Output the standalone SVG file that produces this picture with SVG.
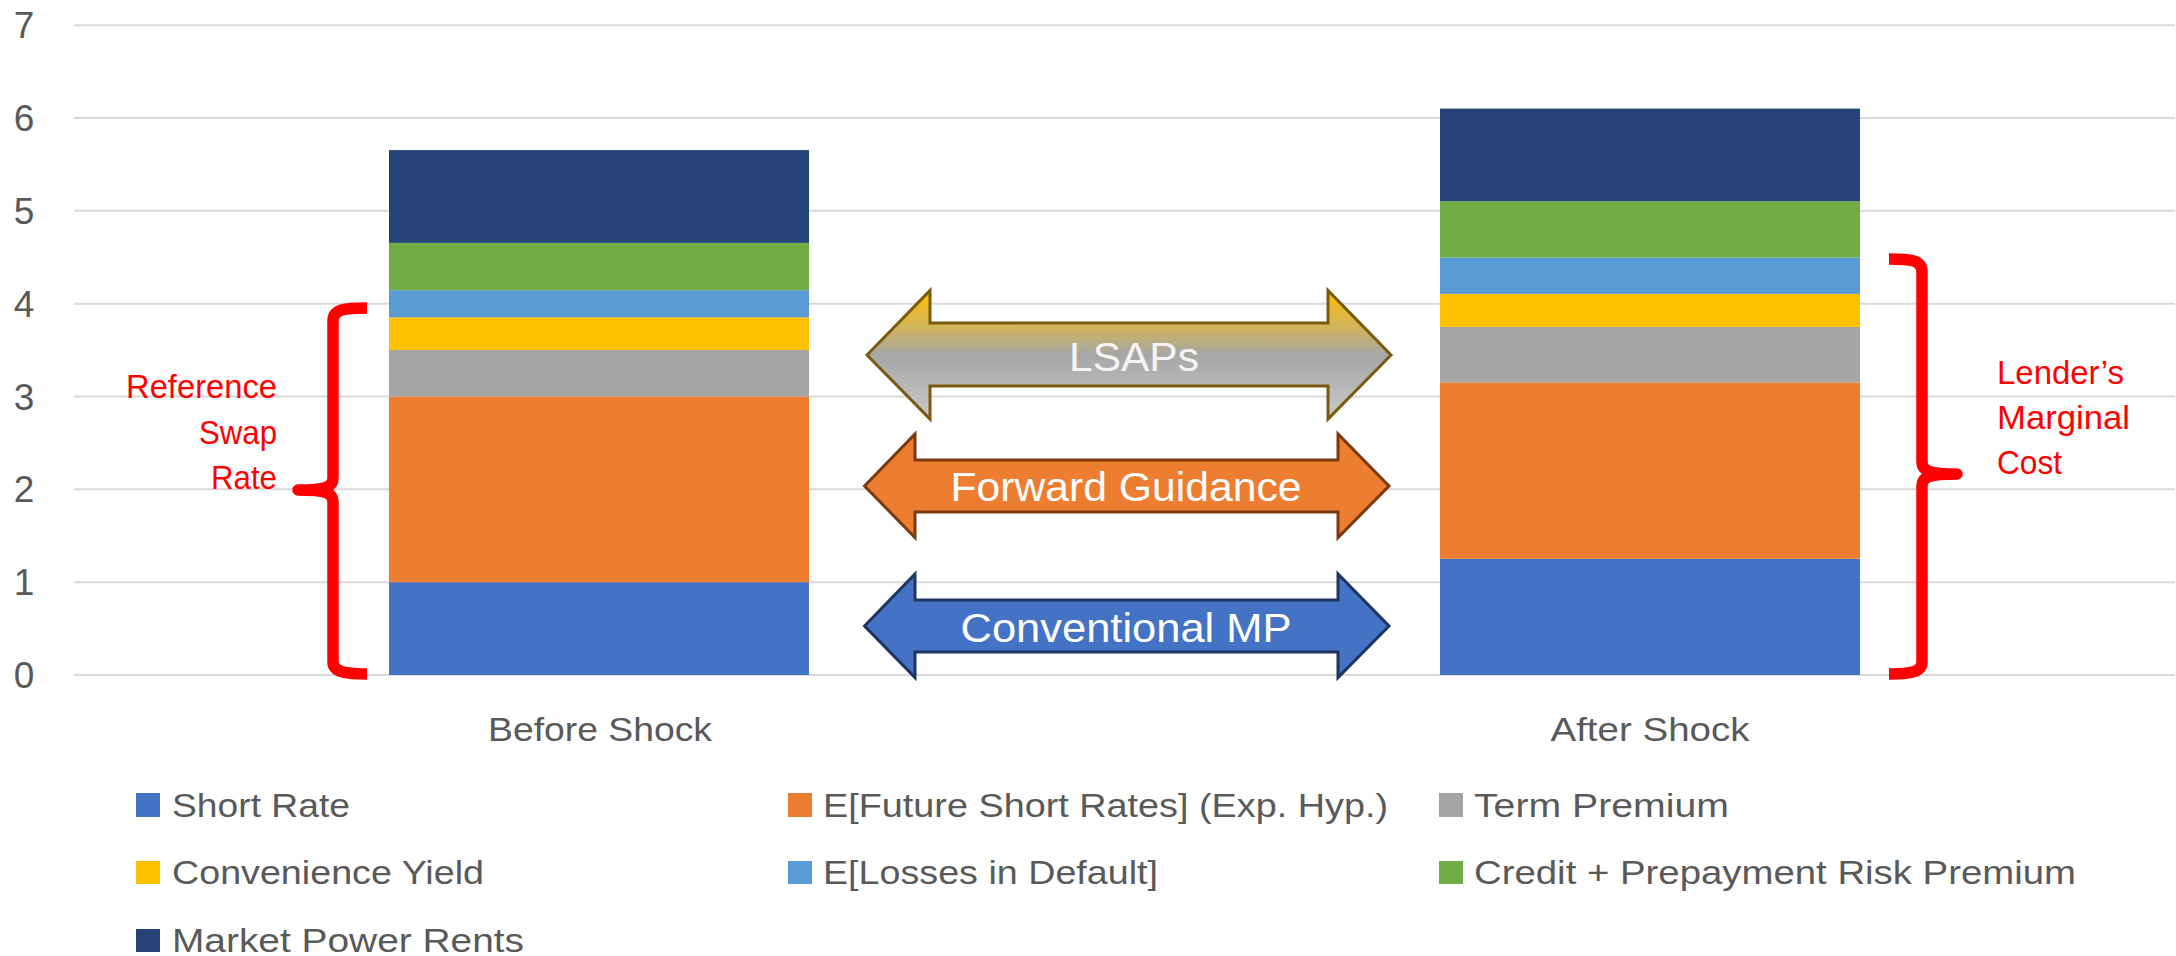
<svg xmlns="http://www.w3.org/2000/svg" width="2176" height="956" viewBox="0 0 2176 956">
<style>
.grid{stroke:#D9D9D9;stroke-width:2;fill:none}
.ax{font-family:"Liberation Sans",Arial,sans-serif;fill:#595959}
.red{font-family:"Liberation Sans",Arial,sans-serif;fill:#FF0000;font-size:32.5px}
.brace{fill:none;stroke:#FF0000;stroke-width:11.5;stroke-linejoin:round}
.arrtxt{font-family:"Liberation Sans",Arial,sans-serif;font-size:41px;text-anchor:middle}
.c1{fill:#4472C4}.c2{fill:#ED7D31}.c3{fill:#A5A5A5}.c4{fill:#FFC000}.c5{fill:#5B9BD5}.c6{fill:#70AD47}.c7{fill:#264478}
</style>
<defs>
<linearGradient id="gold" x1="0" y1="0" x2="0" y2="1">
<stop offset="0" stop-color="#FFC000"/>
<stop offset="0.28" stop-color="#D2B45A"/>
<stop offset="0.5" stop-color="#A6A6A6"/>
<stop offset="1" stop-color="#CACACA"/>
</linearGradient>
</defs>
<rect width="2176" height="956" fill="#FFFFFF"/>
<g id="gridlines">
<line class="grid" x1="74" y1="675" x2="2175" y2="675"/>
<line class="grid" x1="74" y1="582.2" x2="2175" y2="582.2"/>
<line class="grid" x1="74" y1="489.3" x2="2175" y2="489.3"/>
<line class="grid" x1="74" y1="396.5" x2="2175" y2="396.5"/>
<line class="grid" x1="74" y1="303.7" x2="2175" y2="303.7"/>
<line class="grid" x1="74" y1="210.8" x2="2175" y2="210.8"/>
<line class="grid" x1="74" y1="118" x2="2175" y2="118"/>
<line class="grid" x1="74" y1="25.2" x2="2175" y2="25.2"/>
</g>
<g id="y-axis" class="ax" font-size="37" text-anchor="middle">
<text x="24" y="688">0</text>
<text x="24" y="595.2">1</text>
<text x="24" y="502.3">2</text>
<text x="24" y="409.5">3</text>
<text x="24" y="316.7">4</text>
<text x="24" y="223.8">5</text>
<text x="24" y="131">6</text>
<text x="24" y="38.2">7</text>
</g>
<g id="bar-before">
<rect class="c1" x="389" y="582.2" width="420" height="92.8"/>
<rect class="c2" x="389" y="396.5" width="420" height="185.7"/>
<rect class="c3" x="389" y="350" width="420" height="46.5"/>
<rect class="c4" x="389" y="317.3" width="420" height="32.7"/>
<rect class="c5" x="389" y="290.2" width="420" height="27.1"/>
<rect class="c6" x="389" y="242.9" width="420" height="47.3"/>
<rect class="c7" x="389" y="150.1" width="420" height="92.8"/>
</g>
<g id="bar-after">
<rect class="c1" x="1440" y="558.8" width="420" height="116.2"/>
<rect class="c2" x="1440" y="382.4" width="420" height="176.4"/>
<rect class="c3" x="1440" y="326.9" width="420" height="55.5"/>
<rect class="c4" x="1440" y="293.9" width="420" height="33"/>
<rect class="c5" x="1440" y="257.6" width="420" height="36.3"/>
<rect class="c6" x="1440" y="201.2" width="420" height="56.4"/>
<rect class="c7" x="1440" y="108.6" width="420" height="92.6"/>
</g>
<g id="x-axis" class="ax" font-size="34" text-anchor="middle">
<text x="600" y="741" textLength="224" lengthAdjust="spacingAndGlyphs">Before Shock</text>
<text x="1650" y="741" textLength="199" lengthAdjust="spacingAndGlyphs">After Shock</text>
</g>
<g id="brace-left">
<path class="brace" d="M367,308 C345,308 333,309 333,321 L333,478 C333,487 326,490 298,490 C326,490 333,493 333,502 L333,662 C333,672 345,674 367,674"/>
</g>
<g id="label-reference-swap-rate" class="red" text-anchor="end">
<text x="277" y="398" textLength="151" lengthAdjust="spacingAndGlyphs">Reference</text>
<text x="277" y="443.5" textLength="78" lengthAdjust="spacingAndGlyphs">Swap</text>
<text x="277" y="489" textLength="66" lengthAdjust="spacingAndGlyphs">Rate</text>
</g>
<g id="brace-right">
<path class="brace" d="M1889,259 C1911,259 1922,260 1922,272 L1922,462 C1922,471 1929,474 1957,474 C1929,474 1922,477 1922,486 L1922,662 C1922,672 1911,674 1889,674"/>
</g>
<g id="label-lenders-marginal-cost" class="red">
<text x="1997" y="384" textLength="127" lengthAdjust="spacingAndGlyphs">Lender’s</text>
<text x="1997" y="429" textLength="133" lengthAdjust="spacingAndGlyphs">Marginal</text>
<text x="1997" y="474" textLength="65" lengthAdjust="spacingAndGlyphs">Cost</text>
</g>
<g id="arrow-lsaps">
<polygon points="867,355 930,290.5 930,323 1328,323 1328,290.5 1391,355 1328,419 1328,386 930,386 930,419" fill="url(#gold)" stroke="#7A5A0C" stroke-width="3"/>
<text class="arrtxt" x="1134" y="371" fill="#F4F4F4" font-size="43" textLength="130" lengthAdjust="spacingAndGlyphs">LSAPs</text>
</g>
<g id="arrow-forward-guidance">
<polygon points="864.5,486 915,434 915,460 1338,460 1338,434 1389,486 1338,537.5 1338,512 915,512 915,537.5" fill="#ED7D31" stroke="#7B3A0E" stroke-width="3"/>
<text class="arrtxt" x="1126" y="500.7" fill="#FFFFFF" textLength="351" lengthAdjust="spacingAndGlyphs">Forward Guidance</text>
</g>
<g id="arrow-conventional-mp">
<polygon points="864.5,626 915,574 915,600 1338,600 1338,574 1389,626 1338,677.5 1338,652 915,652 915,677.5" fill="#4472C4" stroke="#1F3461" stroke-width="3"/>
<text class="arrtxt" x="1126" y="641.7" fill="#FFFFFF" textLength="331" lengthAdjust="spacingAndGlyphs">Conventional MP</text>
</g>
<g id="legend" class="ax" font-size="34">
<rect class="c1" x="136" y="793" width="24" height="24"/>
<text x="172" y="816.5" textLength="178" lengthAdjust="spacingAndGlyphs">Short Rate</text>
<rect class="c2" x="788" y="793" width="24" height="24"/>
<text x="823" y="816.5" textLength="565" lengthAdjust="spacingAndGlyphs">E[Future Short Rates] (Exp. Hyp.)</text>
<rect class="c3" x="1439" y="793" width="24" height="24"/>
<text x="1474" y="816.5" textLength="255" lengthAdjust="spacingAndGlyphs">Term Premium</text>
<rect class="c4" x="136" y="861" width="24" height="23"/>
<text x="172" y="884" textLength="312" lengthAdjust="spacingAndGlyphs">Convenience Yield</text>
<rect class="c5" x="788" y="861" width="24" height="23"/>
<text x="823" y="884" textLength="335" lengthAdjust="spacingAndGlyphs">E[Losses in Default]</text>
<rect class="c6" x="1439" y="861" width="24" height="23"/>
<text x="1474" y="884" textLength="602" lengthAdjust="spacingAndGlyphs">Credit + Prepayment Risk Premium</text>
<rect class="c7" x="136" y="929" width="24" height="23"/>
<text x="172" y="951.5" textLength="352" lengthAdjust="spacingAndGlyphs">Market Power Rents</text>
</g>
</svg>
